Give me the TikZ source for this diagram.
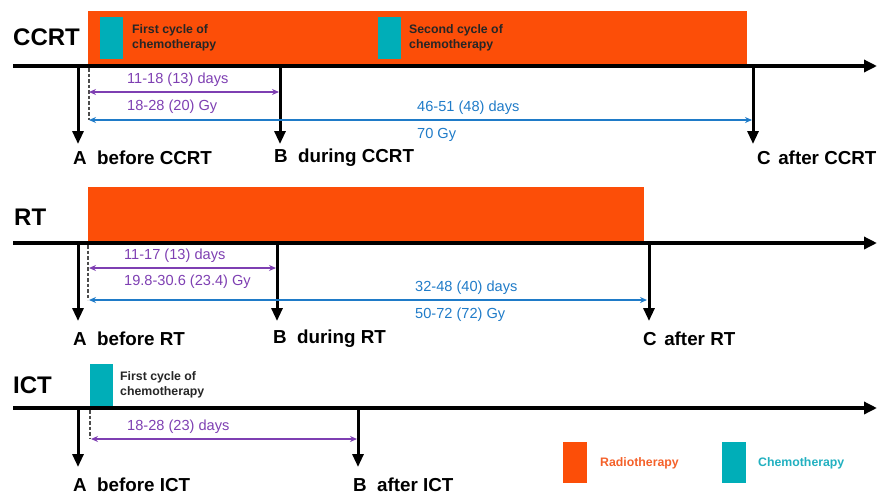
\documentclass[tikz,border=0pt]{standalone}
\usepackage{fontspec}
\setmainfont{Liberation Sans}
\usetikzlibrary{arrows.meta}
\definecolor{rtor}{HTML}{FC4E08}
\definecolor{ctteal}{HTML}{00AEB8}
\definecolor{pur}{HTML}{7E3FB2}
\definecolor{blu}{HTML}{1F7BC8}
\definecolor{legor}{HTML}{F4612A}
\definecolor{legteal}{HTML}{22B0C0}
\begin{document}
\begin{tikzpicture}[x=1pt,y=-1pt,
  tline/.style={line width=3.4pt,-{Triangle[length=13pt,width=12pt]}},
  tick/.style={line width=3pt,-{Triangle[length=13pt,width=11pt]}},
  dashv/.style={black!70,line width=1.1pt,dash pattern=on 3.5pt off 2pt},
  parr/.style={pur,line width=1.7pt,{Stealth[length=7pt,width=6pt]}-{Stealth[length=7pt,width=6pt]}},
  barr/.style={blu,line width=1.5pt,{Stealth[length=7pt,width=6pt]}-{Stealth[length=7pt,width=6pt]}},
  ptxt/.style={text=pur,font=\fontsize{14.6}{16}\selectfont,inner sep=0pt,anchor=west},
  btxt/.style={text=blu,font=\fontsize{14.6}{16}\selectfont,inner sep=0pt,anchor=west},
  ltxt/.style={font=\bfseries\fontsize{18.8}{22}\selectfont,inner sep=0pt,anchor=west},
  ttl/.style={font=\bfseries\fontsize{24}{26}\selectfont,inner sep=0pt,anchor=west},
  ctxt/.style={text=black!85,font=\bfseries\fontsize{12.3}{15}\selectfont,inner sep=0pt,anchor=west,align=left},
  rtbar/.style={fill=rtor},
  ctbar/.style={fill=ctteal}
]
\useasboundingbox (0,0) rectangle (877,496);

% ---------------- CCRT ----------------
\fill[rtbar] (88,11) rectangle (747,65);
\fill[ctbar] (100,17) rectangle (123,59);
\fill[ctbar] (378,17) rectangle (401,59);
\node[ctxt] (c1t) at (132,37.5) {First cycle of\\chemotherapy};
\node[ctxt] (c2t) at (409,37.5) {Second cycle of\\chemotherapy};
\node[ttl] (ccrt) at (13,37) {CCRT};
\coordinate (l1s) at (13,66);
\coordinate (l1e) at (877,66);
\draw[tline] (l1s) -- (l1e);
\coordinate (cA) at (78,66);  \coordinate (cAe) at (78,144);
\coordinate (cB) at (280,66); \coordinate (cBe) at (280,144);
\coordinate (cC) at (753,66); \coordinate (cCe) at (753,144);
\draw[tick] (cA) -- (cAe);
\draw[tick] (cB) -- (cBe);
\draw[tick] (cC) -- (cCe);
\coordinate (cD) at (89,68); \coordinate (cDe) at (89,120);
\draw[dashv] (cD) -- (cDe);
\coordinate (cp1) at (89,92); \coordinate (cp2) at (279,92);
\draw[parr] (cp1) -- (cp2);
\node[ptxt] (cpt1) at (127,80) {11-18 (13) days};
\node[ptxt] (cpt2) at (127,107) {18-28 (20) Gy};
\coordinate (cb1) at (89,120); \coordinate (cb2) at (752,120);
\draw[barr] (cb1) -- (cb2);
\node[btxt] (cbt1) at (417,108) {46-51 (48) days};
\node[btxt] (cbt2) at (417,135) {70 Gy};
\node[ltxt] (cAl) at (73,158) {A\hspace{0.55em}before CCRT};
\node[ltxt] (cBl) at (274,158) {B\hspace{0.55em}during CCRT};
\node[ltxt] (cCl) at (757,158) {C\hspace{0.4em}after CCRT};

% ---------------- RT ----------------
\fill[rtbar] (88,187) rectangle (644,242);
\node[ttl] (rt) at (14,217) {RT};
\coordinate (l2s) at (13,243);
\coordinate (l2e) at (877,243);
\draw[tline] (l2s) -- (l2e);
\coordinate (rA) at (78,243);  \coordinate (rAe) at (78,321);
\coordinate (rB) at (277,243); \coordinate (rBe) at (277,321);
\coordinate (rC) at (649,243); \coordinate (rCe) at (649,321);
\draw[tick] (rA) -- (rAe);
\draw[tick] (rB) -- (rBe);
\draw[tick] (rC) -- (rCe);
\coordinate (rD) at (88,245); \coordinate (rDe) at (88,300);
\draw[dashv] (rD) -- (rDe);
\coordinate (rp1) at (89,268); \coordinate (rp2) at (276,268);
\draw[parr] (rp1) -- (rp2);
\node[ptxt] (rpt1) at (124,256) {11-17 (13) days};
\node[ptxt] (rpt2) at (124,282) {19.8-30.6 (23.4) Gy};
\coordinate (rb1) at (89,300); \coordinate (rb2) at (647,300);
\draw[barr] (rb1) -- (rb2);
\node[btxt] (rbt1) at (415,288) {32-48 (40) days};
\node[btxt] (rbt2) at (415,315) {50-72 (72) Gy};
\node[ltxt] (rAl) at (73,339) {A\hspace{0.55em}before RT};
\node[ltxt] (rBl) at (273,339) {B\hspace{0.55em}during RT};
\node[ltxt] (rCl) at (643,339) {C\hspace{0.4em}after RT};

% ---------------- ICT ----------------
\fill[ctbar] (90,364) rectangle (113,406);
\node[ctxt] (i1t) at (120,385) {First cycle of\\chemotherapy};
\node[ttl] (ict) at (13,385) {ICT};
\coordinate (l3s) at (13,408);
\coordinate (l3e) at (877,408);
\draw[tline] (l3s) -- (l3e);
\coordinate (iA) at (78,408);  \coordinate (iAe) at (78,467);
\coordinate (iB) at (358,408); \coordinate (iBe) at (358,467);
\draw[tick] (iA) -- (iAe);
\draw[tick] (iB) -- (iBe);
\coordinate (iD) at (90,410); \coordinate (iDe) at (90,438);
\draw[dashv] (iD) -- (iDe);
\coordinate (ip1) at (91,439); \coordinate (ip2) at (357,439);
\draw[parr] (ip1) -- (ip2);
\node[ptxt] (ipt1) at (127,427) {18-28 (23) days};
\node[ltxt] (iAl) at (73,485) {A\hspace{0.55em}before ICT};
\node[ltxt] (iBl) at (353,485) {B\hspace{0.55em}after ICT};

% ---------------- Legend ----------------
\fill[rtbar] (563,442) rectangle (587,483);
\node[ctxt,text=legor] (lgr) at (600,463) {Radiotherapy};
\fill[ctbar] (722,442) rectangle (746,483);
\node[ctxt,text=legteal] (lgc) at (758,463) {Chemotherapy};
\end{tikzpicture}
\end{document}
